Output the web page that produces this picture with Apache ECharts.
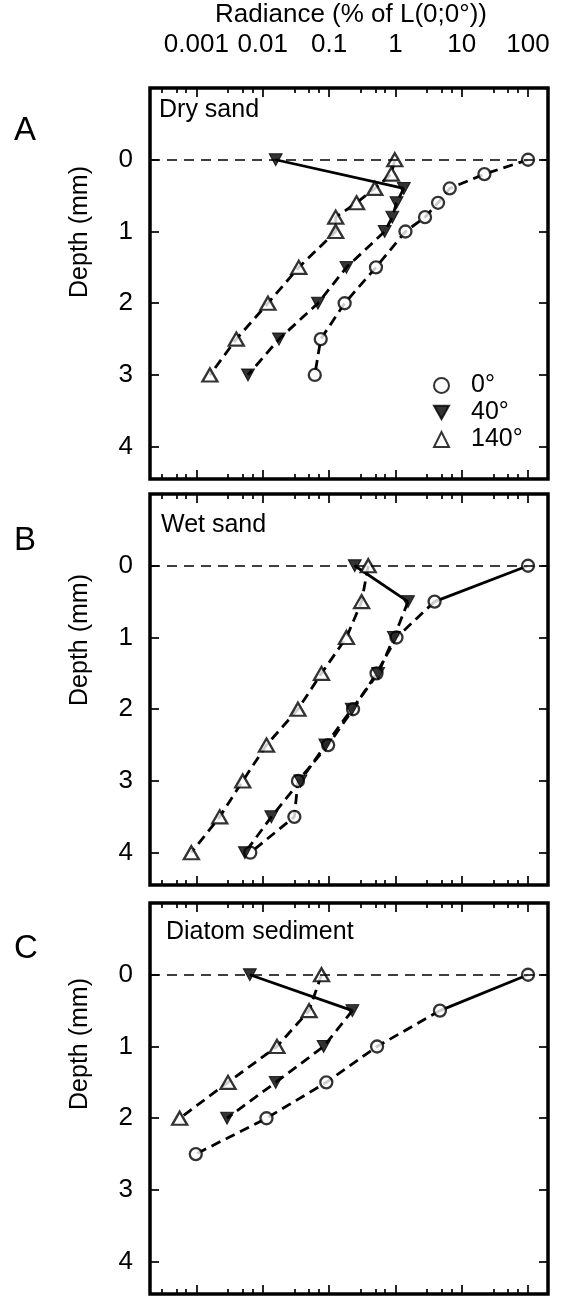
<!DOCTYPE html>
<html>
<head>
<meta charset="utf-8">
<script src="https://cdn.jsdelivr.net/npm/echarts@6/dist/echarts.min.js"></script>
<style>
  html, body { margin: 0; padding: 0; background: #fff; }
  #chart { width: 565px; height: 1301px; }
</style>
</head>
<body>
<div id="chart"></div>
<script>
// ---- data ----
const angles = ['0°', '40°', '140°'];
const panelNames = ['Dry sand', 'Wet sand', 'Diatom sediment'];
const panelLetters = ['A', 'B', 'C'];
const depthTicks = [0, 1, 2, 3, 4];
const radianceTicks = [0.001, 0.01, 0.1, 1, 10, 100];
const radianceMinorTicks = [
  0.0003, 0.0005, 0.0007,
  0.003, 0.005, 0.007,
  0.03, 0.05, 0.07,
  0.3, 0.5, 0.7,
  3, 5, 7,
  30, 50, 70
];

// Dry sand
const dryDepth0 = [0, 0.2, 0.4, 0.6, 0.8, 1.0, 1.5, 2.0, 2.5, 3.0];
const dryRad0 = [100, 22, 6.6, 4.4, 2.8, 1.42, 0.51, 0.172, 0.075, 0.061];
const dryDepth40 = [0, 0.4, 0.6, 0.8, 1.0, 1.5, 2.0, 2.5, 3.0];
const dryRad40 = [0.0157, 1.34, 1.04, 0.90, 0.69, 0.183, 0.068, 0.0176, 0.006];
const dryDepth140 = [0, 0.2, 0.4, 0.6, 0.8, 1.0, 1.5, 2.0, 2.5, 3.0];
const dryRad140 = [0.98, 0.87, 0.49, 0.26, 0.126, 0.126, 0.035, 0.012, 0.004, 0.0016];

// Wet sand
const wetDepth0 = [0, 0.5, 1.0, 1.5, 2.0, 2.5, 3.0, 3.5, 4.0];
const wetRad0 = [100, 3.9, 1.04, 0.52, 0.23, 0.097, 0.034, 0.030, 0.0065];
const wetDepth40 = [0, 0.5, 1.0, 1.5, 2.0, 2.5, 3.0, 3.5, 4.0];
const wetRad40 = [0.244, 1.55, 0.95, 0.55, 0.22, 0.088, 0.037, 0.0135, 0.0054];
const wetDepth140 = [0, 0.5, 1.0, 1.5, 2.0, 2.5, 3.0, 3.5, 4.0];
const wetRad140 = [0.39, 0.31, 0.183, 0.077, 0.034, 0.0114, 0.005, 0.00225, 0.00084];

// Diatom sediment
const diaDepth0 = [0, 0.5, 1.0, 1.5, 2.0, 2.5];
const diaRad0 = [100, 4.7, 0.53, 0.091, 0.0114, 0.00098];
const diaDepth40 = [0, 0.5, 1.0, 1.5, 2.0];
const diaRad40 = [0.0064, 0.225, 0.083, 0.0157, 0.0029];
const diaDepth140 = [0, 0.5, 1.0, 1.5, 2.0];
const diaRad140 = [0.077, 0.050, 0.0164, 0.003, 0.00056];

// profiles whose first segment (surface to first depth) is drawn solid
const surfaceSolid = [
  [false, true, false],
  [true, true, false],
  [true, true, false]
];

// ---- layout & style ----
const FONT = '"Liberation Sans", Arial, Helvetica, sans-serif';
const GRID_LEFT = 150;
const GRID_WIDTH = 398;
const GRID_TOPS = [88, 494, 903];
const GRID_HEIGHT = 391;
const X_MIN = 0.0002, X_MAX = 200;
const DEPTH_MIN = -1, DEPTH_MAX = 4.45;
const DOWN_TRIANGLE = 'path://M0,0L10,0L5,9Z';

const profiles = [
  [[dryRad0, dryDepth0], [dryRad40, dryDepth40], [dryRad140, dryDepth140]],
  [[wetRad0, wetDepth0], [wetRad40, wetDepth40], [wetRad140, wetDepth140]],
  [[diaRad0, diaDepth0], [diaRad40, diaDepth40], [diaRad140, diaDepth140]]
];

const markerStyles = [
  { symbol: 'circle', symbolSize: 12, itemStyle: { color: '#fff', borderColor: '#000', borderWidth: 2.3 } },
  { symbol: DOWN_TRIANGLE, symbolSize: [13, 12], itemStyle: { color: '#000', borderColor: '#000', borderWidth: 1 } },
  { symbol: 'triangle', symbolSize: [15, 13], itemStyle: { color: '#fff', borderColor: '#000', borderWidth: 2.3 } }
];

const pairs = (rad, depth) => rad.map((r, i) => [r, depth[i]]);

const grids = [], xAxes = [], yAxes = [], series = [], graphics = [];

function logAxis(g, position, ticks, tickLen, showLabels) {
  return {
    gridIndex: g, type: 'log', logBase: 10, min: X_MIN, max: X_MAX, position: position,
    axisLine: { show: false, onZero: false },
    axisTick: { inside: true, length: tickLen, customValues: ticks, lineStyle: { color: '#000', width: 1.7 } },
    axisLabel: {
      show: showLabels, customValues: radianceTicks, margin: 30,
      fontFamily: FONT, fontSize: 26, color: '#000',
      formatter: v => String(v)
    },
    splitLine: { show: false }, minorTick: { show: false }
  };
}

for (let g = 0; g < 3; g++) {
  grids.push({
    left: GRID_LEFT, top: GRID_TOPS[g], width: GRID_WIDTH, height: GRID_HEIGHT,
    show: true, borderColor: '#000', borderWidth: 3.5, backgroundColor: 'transparent'
  });
  const xBase = xAxes.length;
  xAxes.push(logAxis(g, 'top', radianceTicks, 9, g === 0));
  xAxes.push(logAxis(g, 'top', radianceMinorTicks, 5, false));
  xAxes.push(logAxis(g, 'bottom', radianceTicks, 9, false));
  xAxes.push(logAxis(g, 'bottom', radianceMinorTicks, 5, false));

  const yBase = yAxes.length;
  ['left', 'right'].forEach(pos => {
    yAxes.push({
      gridIndex: g, type: 'value', inverse: true, min: DEPTH_MIN, max: DEPTH_MAX, position: pos,
      axisLine: { show: false, onZero: false },
      axisTick: { inside: true, length: 9, customValues: depthTicks, lineStyle: { color: '#000', width: 1.7 } },
      axisLabel: {
        show: pos === 'left', customValues: depthTicks, margin: 17,
        fontFamily: FONT, fontSize: 26, color: '#000'
      },
      splitLine: { show: false }
    });
  });

  // sediment surface (depth 0)
  series.push({
    type: 'line', name: 'surface', xAxisIndex: xBase, yAxisIndex: yBase,
    data: [], silent: true, z: 1,
    markLine: {
      silent: true, symbol: 'none', label: { show: false }, animation: false,
      lineStyle: { color: '#000', width: 1.7, type: [10, 7] },
      data: [{ yAxis: 0 }]
    }
  });

  for (let a = 0; a < 3; a++) {
    const pts = pairs(profiles[g][a][0], profiles[g][a][1]);
    const solid = surfaceSolid[g][a];
    if (solid) {
      series.push({
        type: 'line', name: 'solid', xAxisIndex: xBase, yAxisIndex: yBase,
        data: pts.slice(0, 2), symbol: 'none', silent: true, z: 2,
        lineStyle: { color: '#000', width: 2.8, type: 'solid' }
      });
    }
    series.push({
      type: 'line', name: 'dashed', xAxisIndex: xBase, yAxisIndex: yBase,
      data: solid ? pts.slice(1) : pts, symbol: 'none', silent: true, z: 2,
      lineStyle: { color: '#000', width: 2.8, type: [10, 6] }
    });
    series.push(Object.assign({
      type: 'scatter', name: angles[a], xAxisIndex: xBase, yAxisIndex: yBase,
      data: pts, z: 3, silent: true
    }, JSON.parse(JSON.stringify(markerStyles[a]))));
  }

  // panel letter, sample name, depth axis title
  graphics.push({
    type: 'text', left: 14, top: GRID_TOPS[g] + [26, 30, 29][g],
    style: { text: panelLetters[g], font: '33px ' + FONT, fill: '#000' }
  });
  graphics.push({
    type: 'text', left: [159, 161, 166][g], top: GRID_TOPS[g] + [10, 19, 17][g],
    style: { text: panelNames[g], font: '25px ' + FONT, fill: '#000' }
  });
  graphics.push({
    type: 'text', x: 80, y: GRID_TOPS[g] + [144, 146, 141][g], rotation: Math.PI / 2,
    style: { text: 'Depth (mm)', font: '25px ' + FONT, fill: '#000', align: 'center', verticalAlign: 'middle' }
  });
}

graphics.push({
  type: 'text', x: 351, y: 15,
  style: { text: 'Radiance (% of L(0;0°))', font: '26px ' + FONT, fill: '#000', align: 'center', verticalAlign: 'middle' }
});

const chart = echarts.init(document.getElementById('chart'), null, { renderer: 'canvas' });
chart.setOption({
  animation: false,
  backgroundColor: '#fff',
  grid: grids,
  xAxis: xAxes,
  yAxis: yAxes,
  legend: {
    data: [
      { name: angles[0], icon: 'circle' },
      { name: angles[1], icon: DOWN_TRIANGLE },
      { name: angles[2], icon: 'triangle' }
    ],
    orient: 'vertical', left: 428, top: 368,
    itemWidth: 15, itemHeight: 15, itemGap: 2,
    symbolRotate: 0,
    selectedMode: false,
    textStyle: { fontFamily: FONT, fontSize: 25, color: '#000', padding: [0, 0, 0, 17] }
  },
  series: series,
  graphic: graphics
});
</script>
</body>
</html>
